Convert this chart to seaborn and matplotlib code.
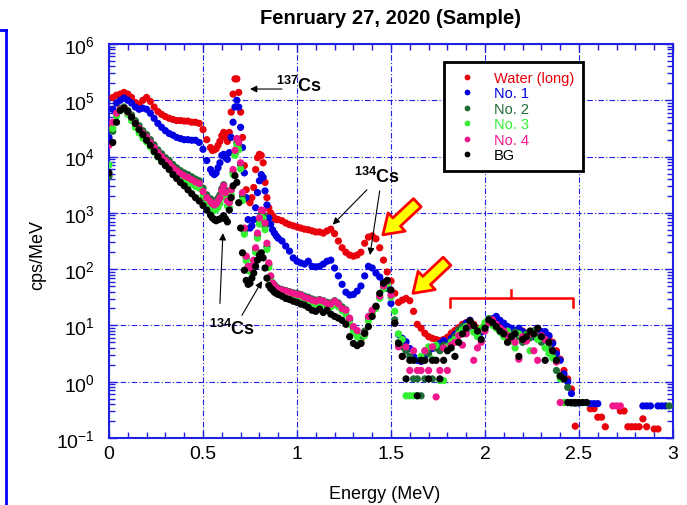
import numpy as np
import pandas as pd
import matplotlib
matplotlib.use("Agg")
import matplotlib.pyplot as plt
import seaborn as sns
from matplotlib import ticker
from matplotlib.lines import Line2D

nan = np.nan

# energy channels (MeV): coarse, fine around the Cs peaks, coarse again
energy = np.round(np.concatenate([np.arange(0.0, 0.55, 0.02),
                                  np.arange(0.55, 0.895, 0.01),
                                  np.arange(0.90, 2.99, 0.02)]), 2)

# log10(cps/MeV)
water_log = [
    4.50, 5.05, 5.09, 5.11, 5.14, 5.11, 5.05, 4.96, 4.93, 5.00, 5.05, 4.98, 4.88, 4.80,
    4.75, 4.71, 4.68, 4.66, 4.64, 4.64, 4.63, 4.63, 4.61, 4.61, 4.59, 4.48, 4.30, 4.16,
    4.11, 4.12, 4.14, 4.20, 4.27, 4.37, 4.43,
    4.34, 4.27, 4.43, 4.79, 5.11, 5.38, 5.38,
    5.14, 4.79, 4.34, 3.84, 3.41, 3.23, 3.18,
    3.27, 3.45, 3.77, 3.98, 4.04, 4.02, 3.89,
    3.54, 3.27, 3.09, 3.00, 2.95, 2.91, 2.88,
    2.88, 2.86, 2.82, 2.79, 2.77, 2.75, 2.73, 2.71, 2.70, 2.68, 2.66, 2.66, 2.64, 2.68, 2.71,
    2.63, 2.50, 2.38, 2.30, 2.25, 2.23, 2.25, 2.30, 2.46, 2.57, 2.59, 2.54, 2.38, 2.16, 1.95,
    1.79, 1.57, 1.41, 1.45, 1.48, 1.44, 1.25, 1.02, 0.95, 0.86, 0.80, 0.77, 0.75, 0.73, 0.75,
    0.79, 0.86, 0.91, 0.96, 1.02, 1.05, 1.09, 1.02, 0.95, 0.95, 1.00, 1.05, 1.08, 1.10, 1.05,
    1.00, 0.95, 0.92, 0.90, 0.93, 0.90, 0.85, 0.88, 0.90, 0.86, 0.88, 0.85, 0.80, 0.70, 0.55,
    0.40, 0.20, 0.05, -0.13, -0.79, nan, nan, nan, -0.48, -0.48, -0.63, -0.63, -0.80, nan, nan,
    nan, -0.52, -0.52, -0.80, -0.80, -0.80, -0.80, -0.66, -0.80, nan, -0.84, -0.84, nan, nan, nan,
]
no1_log = [
    4.34, 4.84, 4.95, 5.00, 5.04, 5.00, 4.95, 4.88, 4.84, 4.86, 4.84, 4.77, 4.68, 4.59,
    4.52, 4.46, 4.41, 4.38, 4.34, 4.32, 4.30, 4.30, 4.29, 4.29, 4.25, 4.13, 3.93, 3.77,
    3.71, 3.68, 3.71, 3.80, 3.89, 4.02, 4.04,
    3.98, 3.95, 4.07, 4.34, 4.61, 4.88, 5.00,
    4.88, 4.52, 4.16, 3.71, 3.27, 2.88, 2.73,
    2.77, 2.88, 3.09, 3.36, 3.57, 3.68, 3.63,
    3.39, 3.14, 2.91, 2.80, 2.70, 2.64, 2.59,
    2.55, 2.50, 2.41, 2.32, 2.20, 2.14, 2.11, 2.09, 2.14, 2.05, 2.04, 2.05, 2.09, 2.14, 2.16,
    2.02, 1.88, 1.73, 1.59, 1.54, 1.55, 1.61, 1.70, 1.88, 2.05, 2.02, 1.93, 1.86, 1.77, 1.66,
    1.39, 1.04, 0.84, 0.77, 0.71, 0.59, 0.45, 0.38, 0.36, 0.45, 0.55, 0.59, 0.62, 0.68, 0.73,
    0.68, 0.77, 0.84, 0.89, 0.98, 1.04, 1.09, 0.95, 0.86, 0.88, 0.98, 1.07, 1.12, 1.16, 1.09,
    1.04, 0.98, 0.95, 0.91, 0.95, 0.89, 0.86, 0.84, 0.80, 0.86, 0.89, 0.89, 0.82, 0.68, 0.50,
    0.38, 0.14, 0.00, -0.21, -0.38, -0.38, nan, nan, -0.39, -0.39, -0.39, nan, nan, nan, nan,
    nan, nan, nan, nan, nan, nan, nan, -0.43, -0.43, -0.43, nan, -0.43, -0.43, -0.43, nan,
]
no2_log = [
    3.65, 4.45, 4.75, 4.86, 4.88, 4.82, 4.74, 4.64, 4.55, 4.46, 4.39, 4.30, 4.21, 4.12,
    4.05, 3.98, 3.93, 3.86, 3.80, 3.75, 3.71, 3.68, 3.64, 3.60, 3.57, 3.44, 3.32, 3.25,
    3.22, 3.20, 3.21, 3.26, 3.32, 3.43, 3.50,
    3.40, 3.27, 3.22, 3.40, 3.72, 4.05, 4.25,
    4.20, 3.85, 3.30, 2.68, 2.20, 2.04, 2.02,
    2.06, 2.15, 2.35, 2.60, 2.86, 2.98, 2.97,
    2.76, 2.40, 2.08, 1.87, 1.76, 1.72, 1.68,
    1.66, 1.64, 1.62, 1.60, 1.58, 1.57, 1.55, 1.52, 1.50, 1.47, 1.45, 1.46, 1.44, 1.41, 1.40,
    1.44, 1.40, 1.33, 1.28, 1.10, 0.95, 0.85, 0.75, 0.90, 1.12, 1.25, 1.33, 1.50, 1.68, 1.78,
    1.60, 1.10, 0.70, 0.62, 0.55, 0.45, 0.05, 0.05, -0.25, 0.05, 0.50, 0.05, 0.60, 0.55, 0.65,
    0.62, 0.72, 0.80, 0.92, 0.98, 0.90, 1.05, 0.95, 0.85, 0.92, 1.00, 1.12, 1.08, 1.00, 0.90,
    0.82, 0.85, 0.75, 0.88, 0.80, 0.70, 0.85, 0.78, 0.90, 0.80, 0.70, 0.75, 0.60, 0.45, 0.20,
    0.10, 0.05, -0.10, -0.38, -0.38, nan, nan, nan, nan, nan, nan, nan, nan, nan, nan,
    nan, nan, nan, nan, nan, nan, nan, nan, nan, nan, nan, nan, nan, nan, -0.43,
]
no3_log = [
    3.85, 4.50, 4.72, 4.82, 4.84, 4.75, 4.64, 4.52, 4.42, 4.33, 4.26, 4.17, 4.08, 3.99,
    3.92, 3.85, 3.80, 3.72, 3.67, 3.62, 3.58, 3.55, 3.51, 3.47, 3.44, 3.30, 3.19, 3.11,
    3.05, 3.04, 3.06, 3.10, 3.17, 3.30, 3.38,
    3.26, 3.12, 3.10, 3.32, 3.68, 4.02, 4.20,
    4.12, 3.78, 3.22, 2.62, 2.15, 1.98, 1.96,
    2.00, 2.10, 2.30, 2.55, 2.80, 2.92, 2.90,
    2.70, 2.35, 2.03, 1.83, 1.72, 1.68, 1.65,
    1.62, 1.60, 1.57, 1.55, 1.53, 1.52, 1.49, 1.46, 1.43, 1.40, 1.38, 1.41, 1.37, 1.35, 1.33,
    1.37, 1.33, 1.26, 1.20, 1.02, 0.88, 0.80, 0.70, 0.82, 1.08, 1.22, 1.30, 1.48, 1.65, 1.74,
    1.50, 1.25, 0.85, 0.75, -0.25, -0.25, -0.25, -0.25, 0.45, 0.55, 0.62, 0.40, 0.65, 0.02, 0.02,
    0.62, 0.70, 0.75, 0.85, 0.92, 0.98, 1.02, 0.88, 0.80, 0.95, 1.05, 1.10, 1.00, 0.95, 0.88,
    0.80, 0.90, 0.72, 0.60, 0.85, 0.75, 0.82, 0.55, 0.88, 0.75, 0.78, 0.60, 0.50, 0.42, 0.38,
    0.05, -0.37, -0.37, -0.37, -0.37, -0.37, -0.37, -0.37, nan, nan, nan, nan, nan, nan, nan,
    nan, nan, nan, nan, nan, nan, nan, nan, nan, nan, nan, nan, nan, nan, nan,
]
no4_log = [
    4.20, 4.61, 4.77, 4.84, 4.86, 4.79, 4.70, 4.59, 4.50, 4.41, 4.34, 4.25, 4.16, 4.07,
    4.00, 3.93, 3.88, 3.80, 3.75, 3.70, 3.66, 3.63, 3.59, 3.55, 3.52, 3.38, 3.27, 3.20,
    3.16, 3.14, 3.16, 3.21, 3.27, 3.39, 3.48,
    3.36, 3.21, 3.18, 3.41, 3.77, 4.11, 4.32,
    4.25, 3.89, 3.36, 2.73, 2.23, 2.05, 2.02,
    2.05, 2.16, 2.38, 2.64, 2.91, 3.05, 3.04,
    2.82, 2.46, 2.11, 1.88, 1.75, 1.70, 1.66,
    1.64, 1.63, 1.61, 1.59, 1.57, 1.55, 1.54, 1.50, 1.48, 1.45, 1.43, 1.45, 1.43, 1.39, 1.38,
    1.43, 1.38, 1.30, 1.27, 1.13, 0.98, 0.91, 0.68, 0.86, 1.16, 1.27, 1.34, 1.52, 1.70, 1.79,
    1.54, 1.04, 0.62, 0.45, 0.62, 0.20, 0.55, 0.20, 0.20, 0.55, 0.20, 0.62, -0.27, 0.20, 0.60,
    0.20, 0.65, 0.70, 0.82, 0.65, 0.85, 1.00, 0.38, 0.60, 0.70, 0.90, 1.05, 1.10, 1.02, 0.95,
    0.90, 0.82, 0.78, 0.70, 0.40, 0.80, 0.72, 0.85, 0.55, 0.38, 0.82, 0.75, 0.70, 0.55, 0.35,
    -0.37, nan, nan, nan, nan, nan, nan, nan, nan, nan, nan, nan, nan, nan, -0.43,
    -0.43, -0.43, nan, nan, nan, nan, nan, nan, nan, nan, nan, nan, nan, nan, nan,
]
bg_log = [
    3.71, 4.25, 4.61, 4.82, 4.86, 4.80, 4.70, 4.59, 4.48, 4.39, 4.29, 4.20, 4.09, 4.00,
    3.91, 3.84, 3.77, 3.68, 3.61, 3.54, 3.48, 3.41, 3.34, 3.27, 3.21, 3.13, 3.05, 2.96,
    2.91, 2.88, 2.86, 2.88, 2.89, 2.91, 2.95,
    2.89, 2.84, 3.05, 3.27, 3.48, 3.66, 3.54,
    3.18, 2.73, 2.29, 1.98, 1.80, 1.73, 1.75,
    1.84, 1.93, 2.05, 2.16, 2.25, 2.29, 2.20,
    2.02, 1.84, 1.71, 1.66, 1.63, 1.59, 1.57,
    1.55, 1.52, 1.48, 1.46, 1.43, 1.41, 1.38, 1.36, 1.32, 1.27, 1.25, 1.29, 1.23, 1.27, 1.20,
    1.16, 1.13, 1.09, 1.02, 0.80, 0.68, 0.64, 0.68, 0.86, 0.98, 1.16, 1.34, 1.57, 1.75, 1.80,
    1.63, 1.04, 0.68, 0.45, 0.05, 0.38, 0.38, -0.25, 0.38, 0.38, 0.05, 0.38, 0.38, 0.05, 0.38,
    0.55, 0.60, 0.45, 0.70, 0.85, 0.95, 1.08, 1.00, 0.90, 0.75, 0.95, 1.10, 1.05, 0.98, 0.90,
    0.85, 0.70, 0.80, 0.85, 0.45, 0.75, 0.80, 0.90, 0.85, 0.95, 0.80, 0.38, 0.70, 0.55, 0.38,
    0.10, 0.05, -0.37, -0.37, -0.37, -0.37, -0.37, -0.37, nan, nan, nan, nan, nan, nan, nan,
    nan, nan, nan, nan, nan, nan, nan, nan, nan, nan, nan, nan, nan, nan, nan,
]

names = ["Water (long)", "No. 1", "No. 2", "No. 3", "No. 4", "BG"]
colors = ["#e8000b", "#0000e0", "#1f6b35", "#33f033", "#f0168c", "#000000"]
logs = [water_log, no1_log, no2_log, no3_log, no4_log, bg_log]

frames = []
for name, vals in zip(names, logs):
    assert len(vals) == len(energy), (name, len(vals))
    frames.append(pd.DataFrame({"energy": energy, "cps": 10 ** np.array(vals), "sample": name}))
df = pd.concat(frames).dropna()

plt.rcParams["font.family"] = ["Liberation Sans", "DejaVu Sans"]
plt.rcParams["mathtext.default"] = "regular"

fig = plt.figure(figsize=(6.87, 5.06), dpi=100)
ax = fig.add_axes([109 / 687, 67 / 506, 564 / 687, 394 / 506])

sns.scatterplot(data=df, x="energy", y="cps", hue="sample", hue_order=names,
                palette=dict(zip(names, colors)), s=27, linewidth=0, ax=ax, zorder=3)

ax.set_yscale("log")
ax.set_xlim(0, 3)
ax.set_ylim(0.1, 1e6)
ax.set_xlabel("")
ax.set_ylabel("")

blue = "#2020e0"
ax.grid(True, which="major", color=blue, ls=(0, (5, 2, 1, 2)), lw=0.8)
ax.set_axisbelow(True)
ax.xaxis.set_major_locator(ticker.MultipleLocator(0.5))
ax.xaxis.set_minor_locator(ticker.MultipleLocator(0.1))
ax.xaxis.set_major_formatter(ticker.FuncFormatter(lambda v, p: "%g" % v))
ax.yaxis.set_major_locator(ticker.LogLocator(base=10, numticks=20))
ax.yaxis.set_minor_locator(ticker.LogLocator(base=10, subs=np.arange(2, 10), numticks=20))
ax.yaxis.set_minor_formatter(ticker.NullFormatter())
ax.yaxis.set_major_formatter(ticker.FuncFormatter(lambda v, p: r"$10^{%d}$" % round(np.log10(v))))
ax.tick_params(which="both", direction="in", top=True, right=True, color=blue,
               labelcolor="black", labelsize=14, width=1)
ax.tick_params(which="major", length=6)
ax.tick_params(which="minor", length=4)
ax.tick_params(axis="y", pad=10)
ax.tick_params(axis="x", pad=5)
for sp in ax.spines.values():
    sp.set_color(blue)
    sp.set_linewidth(1.5)

# legend
handles, labels = ax.get_legend_handles_labels()
leg = ax.legend(handles, labels, loc="upper left", bbox_to_anchor=(0.594, 0.954),
                borderaxespad=0, fontsize=10.5, frameon=True, fancybox=False, framealpha=1,
                edgecolor="black", labelspacing=0.1, handletextpad=0.8,
                borderpad=0.6, handlelength=2.0, markerscale=0.8)
leg.get_frame().set_linewidth(2)
for txt, c in zip(leg.get_texts(), colors):
    txt.set_color(c)

# nuclide labels and arrows
arrow = dict(arrowstyle="-|>", color="black", lw=0.8, mutation_scale=10, shrinkA=0, shrinkB=0)
ax.text(0.888, 10 ** 5.27, r"$^{137}$Cs", fontsize=13, fontweight="bold", va="center", ha="left")
ax.annotate("", xy=(0.75, 10 ** 5.2), xytext=(0.92, 10 ** 5.2), arrowprops=arrow)

ax.text(1.305, 10 ** 3.66, r"$^{134}$Cs", fontsize=13, fontweight="bold", va="center", ha="left")
ax.annotate("", xy=(1.19, 10 ** 2.79), xytext=(1.372, 10 ** 3.41), arrowprops=arrow)
ax.annotate("", xy=(1.388, 10 ** 2.25), xytext=(1.44, 10 ** 3.39), arrowprops=arrow)

ax.text(0.53, 10 ** 0.95, r"$^{134}$Cs", fontsize=13, fontweight="bold", va="center", ha="left")
ax.annotate("", xy=(0.606, 10 ** 2.64), xytext=(0.59, 10 ** 1.39), arrowprops=arrow)
ax.annotate("", xy=(0.814, 10 ** 1.79), xytext=(0.707, 10 ** 1.18), arrowprops=arrow)

# yellow block arrows
block = dict(arrowstyle="simple,head_width=1.0,head_length=0.75,tail_width=0.45",
             fc="#ffff00", ec="#ff0000", lw=2, mutation_scale=18, shrinkA=0, shrinkB=0)
ax.annotate("", xy=(1.457, 10 ** 2.61), xytext=(1.64, 10 ** 3.18), arrowprops=block)
ax.annotate("", xy=(1.617, 10 ** 1.57), xytext=(1.798, 10 ** 2.14), arrowprops=block)

# red bracket
ax.plot([1.814, 1.814, 2.468, 2.468], [10 ** 1.32, 10 ** 1.48, 10 ** 1.48, 10 ** 1.32],
        color="#ff0000", lw=1.8, zorder=4)
ax.plot([2.14, 2.14], [10 ** 1.48, 10 ** 1.63], color="#ff0000", lw=1.8, zorder=4)

fig.text(391 / 687, 1 - 18 / 506, "Fenruary 27, 2020 (Sample)", ha="center", va="center",
         fontsize=14.5, fontweight="bold")
fig.text(38 / 687, 1 - 255 / 506, "cps/MeV", rotation=90, ha="center", va="center", fontsize=13)
fig.text(385 / 687, 1 - 495 / 506, "Energy (MeV)", ha="center", va="center", fontsize=13)

# frame remnant at the left edge
fig.add_artist(Line2D([6 / 687, 6 / 687], [0, 1 - 31 / 506], color="#0000ff", lw=2))
fig.add_artist(Line2D([0, 6 / 687], [1 - 31 / 506, 1 - 31 / 506], color="#0000ff", lw=2))

fig.savefig("out.png", dpi=100)
